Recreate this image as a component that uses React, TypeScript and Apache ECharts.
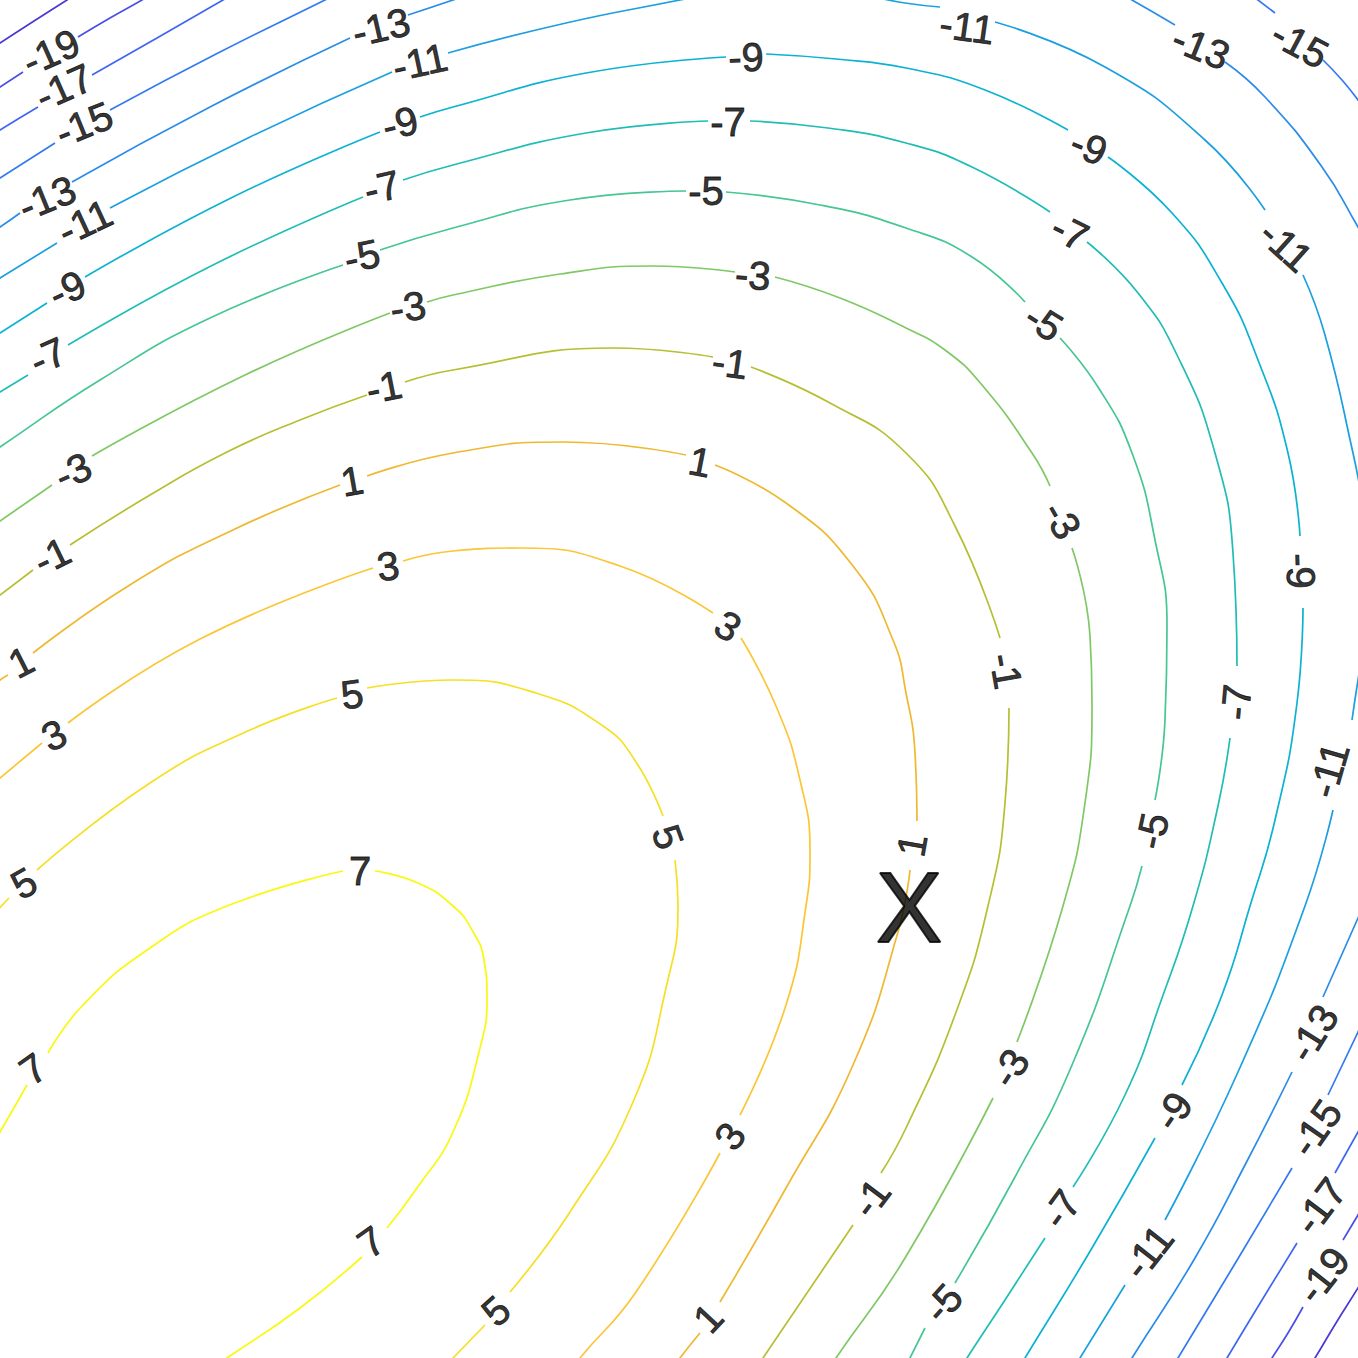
import { useEffect, useRef } from 'react';
import * as echarts from 'echarts';

type Pt = [number, number];

// contour levels, lowest first (the plane is in picture units, y downwards)
const levels = [-21, -19, -17, -15, -13, -11, -9, -7, -5, -3, -1, 1, 3, 5, 7];

// every contour is a list of runs; a run stops where a label breaks the line
const contourM21: Pt[][] = [
  [[-12, 51], [0, 43], [34, 21], [67, 0], [80, -8]],
  [[1372, 1265], [1358, 1288], [1336, 1323], [1315, 1358], [1306, 1372]],
];
const contourM19: Pt[][] = [
  [[-12, 95], [0, 87], [23, 72]],
  [[78, 37], [110, 18], [142, 0], [155, -8]],
  [[1372, 1192], [1358, 1215], [1343, 1240]],
  [[1303, 1307], [1288, 1333], [1272, 1358], [1265, 1370]],
];
const contourM17: Pt[][] = [
  [[-12, 138], [0, 130], [38, 107]],
  [[92, 75], [157, 38], [223, 0], [237, -8]],
  [[1372, 1107], [1358, 1132], [1335, 1173]],
  [[1297, 1243], [1262, 1300], [1227, 1358], [1220, 1370]],
];
const contourM15: Pt[][] = [
  [[-12, 186], [0, 178], [55, 143]],
  [[110, 110], [218, 53], [325, 0], [345, -10]],
  [[1245, -10], [1258, 0], [1275, 13]],
  [[1323, 60], [1342, 80], [1358, 100], [1368, 114]],
  [[1370, 1008], [1358, 1032], [1328, 1095]],
  [[1292, 1168], [1236, 1262], [1178, 1358], [1171, 1370]],
];
const contourM13: Pt[][] = [
  [[-12, 234], [0, 227], [20, 213]],
  [[72, 182], [210, 107], [350, 38]],
  [[408, 15], [453, 0], [475, -8]],
  [[1108, -13], [1132, 0], [1175, 25]],
  [[1225, 62], [1265, 97], [1322, 167], [1358, 227], [1366, 242]],
  [[1367, 897], [1358, 918], [1323, 997]],
  [[1292, 1072], [1245, 1165], [1195, 1258], [1132, 1358], [1125, 1370]],
];
const contourM11: Pt[][] = [
  [[-12, 285], [0, 278], [57, 243]],
  [[110, 208], [250, 137], [392, 72]],
  [[448, 53], [566, 23], [680, 0], [705, -5]],
  [[875, -3], [905, 3], [940, 7]],
  [[995, 22], [1105, 67], [1205, 140], [1265, 210]],
  [[1303, 275], [1325, 335], [1353, 453], [1362, 500]],
  [[1364, 645], [1358, 680], [1352, 720]],
  [[1333, 810], [1305, 906], [1238, 1072], [1165, 1220]],
  [[1125, 1285], [1080, 1358], [1073, 1370]],
];
const contourM9: Pt[][] = [
  [[-12, 341], [0, 333], [47, 303]],
  [[85, 277], [233, 197], [380, 132]],
  [[420, 117], [453, 107], [586, 73], [726, 57]],
  [[766, 54], [836, 59], [906, 68], [985, 90], [1068, 130]],
  [[1108, 157], [1172, 213], [1222, 283], [1258, 360], [1288, 453], [1300, 536]],
  [[1303, 608], [1297, 703], [1275, 820], [1250, 906], [1222, 995], [1182, 1085]],
  [[1155, 1138], [1092, 1248], [1025, 1358], [1018, 1370]],
];
const contourM7: Pt[][] = [
  [[-12, 399], [0, 392], [28, 375]],
  [[68, 345], [213, 265], [363, 197]],
  [[403, 180], [453, 165], [586, 133], [708, 121]],
  [[750, 121], [828, 128], [906, 143], [972, 167], [1050, 212]],
  [[1087, 242], [1138, 293], [1178, 357], [1215, 453], [1233, 553], [1237, 666]],
  [[1230, 738], [1218, 806], [1193, 906], [1162, 998], [1125, 1095], [1073, 1187]],
  [[1045, 1238], [1005, 1300], [967, 1358], [960, 1370]],
];
const contourM5: Pt[][] = [
  [[-12, 455], [0, 447], [100, 380], [210, 318], [343, 265]],
  [[380, 250], [453, 228], [570, 200], [686, 191]],
  [[726, 192], [820, 205], [906, 228], [972, 257], [1025, 302]],
  [[1060, 338], [1098, 387], [1132, 453], [1155, 540], [1167, 626], [1165, 720], [1155, 800]],
  [[1142, 866], [1130, 906], [1072, 1065], [1015, 1177], [955, 1283]],
  [[925, 1328], [910, 1358], [904, 1370]],
];
const contourM3: Pt[][] = [
  [[-12, 529], [0, 521], [52, 485]],
  [[92, 456], [245, 375], [390, 313]],
  [[427, 302], [453, 295], [560, 274], [653, 266], [735, 272]],
  [[775, 277], [840, 298], [906, 328], [945, 350], [982, 385], [1032, 453], [1050, 486]],
  [[1072, 548], [1090, 636], [1092, 703], [1085, 803], [1063, 906], [1017, 1042]],
  [[993, 1098], [905, 1258], [836, 1358], [829, 1370]],
];
const contourM1: Pt[][] = [
  [[-12, 604], [0, 595], [33, 570]],
  [[70, 545], [150, 495], [227, 452], [300, 420], [367, 395]],
  [[405, 382], [453, 370], [613, 348], [713, 357]],
  [[751, 367], [830, 403], [906, 453], [955, 526], [1000, 638]],
  [[1009, 708], [1005, 803], [988, 906], [955, 1015], [906, 1128], [881, 1173]],
  [[853, 1225], [763, 1358], [755, 1370]],
];
const contourP1: Pt[][] = [
  [[-12, 690], [0, 680], [8, 675]],
  [[33, 653], [133, 583], [235, 529], [340, 485]],
  [[367, 476], [453, 453], [563, 442], [686, 455]],
  [[715, 465], [786, 503], [853, 566], [893, 640], [906, 693], [915, 753], [917, 821]],
  [[910, 870], [898, 932], [853, 1065], [786, 1188], [720, 1302]],
  [[700, 1333], [680, 1358], [672, 1370]],
];
const contourP3: Pt[][] = [
  [[-12, 788], [0, 778], [42, 743]],
  [[68, 723], [200, 639], [373, 568]],
  [[403, 561], [453, 551], [520, 548], [620, 566], [713, 613]],
  [[741, 638], [776, 706], [800, 780], [810, 853], [806, 906], [786, 1005], [740, 1115]],
  [[720, 1153], [636, 1292], [580, 1358], [572, 1370]],
];
const contourP5: Pt[][] = [
  [[-12, 920], [9, 898]],
  [[37, 870], [150, 783], [250, 730], [337, 698]],
  [[367, 688], [453, 680], [536, 693], [603, 726], [636, 762], [663, 816]],
  [[675, 860], [678, 906], [666, 988], [633, 1102], [570, 1212], [510, 1292]],
  [[485, 1325], [453, 1358], [444, 1367]],
];
const contourP7: Pt[][] = [
  [[-12, 1152], [0, 1132], [27, 1085]],
  [[48, 1053], [83, 1005], [150, 948], [227, 906], [343, 871]],
  [[375, 871], [418, 883], [453, 906], [472, 930], [484, 960], [487, 998], [480, 1048], [453, 1132], [417, 1188], [387, 1228]],
  [[362, 1257], [300, 1308], [227, 1358], [212, 1368]],
];

const contours: [number, Pt[][]][] = [
  [-21, contourM21], [-19, contourM19], [-17, contourM17], [-15, contourM15],
  [-13, contourM13], [-11, contourM11], [-9, contourM9], [-7, contourM7],
  [-5, contourM5], [-3, contourM3], [-1, contourM1], [1, contourP1],
  [3, contourP3], [5, contourP5], [7, contourP7],
];

// inline labels: [level, x, y]
const labelSpots: [number, number, number][] = [
  // left edge
  [-19, 51, 52], [-17, 64, 87], [-15, 84, 124], [-13, 47, 198], [-11, 85, 222],
  [-9, 67, 289], [-7, 48, 356], [-3, 73, 471], [-1, 52, 556], [1, 21, 662],
  [3, 54, 735], [5, 24, 883], [7, 33, 1069],
  // upper band
  [-13, 381, 27], [-11, 420, 62], [-9, 400, 123], [-7, 382, 187], [-5, 362, 256],
  [-3, 408, 307], [-1, 384, 387], [1, 352, 481], [3, 388, 566], [5, 352, 694], [7, 360, 871],
  // top centre
  [-9, 746, 57], [-7, 728, 122], [-5, 706, 191], [-3, 753, 275], [-1, 730, 363],
  [1, 700, 462], [3, 728, 626], [5, 668, 837],
  // right side
  [-11, 967, 27], [-13, 1201, 47], [-15, 1300, 44], [-9, 1089, 147], [-11, 1286, 246],
  [-7, 1070, 232], [-5, 1044, 322], [-3, 1062, 520], [-9, 1301, 571], [-1, 1006, 671],
  [-7, 1236, 702], [-11, 1329, 770], [-5, 1152, 831], [1, 912, 845],
  // lower right
  [-13, 1313, 1033], [-3, 1010, 1068], [-9, 1173, 1111], [-15, 1316, 1128],
  [-17, 1320, 1206], [-7, 1061, 1209], [-1, 871, 1198], [-11, 1148, 1252],
  [-19, 1323, 1275], [-5, 943, 1303], [3, 730, 1136], [1, 708, 1318],
  [5, 496, 1311], [7, 371, 1242],
];

// tilt of each label above, in degrees, same order
const labelAngle = [
  24, 24, 22, 22, 25,
  25, 24, 24, 26, 27,
  25, 30, 35,
  13, 12, 14, 13, 12,
  9, 11, 10, 7, 8, 0,
  2, 0, 0, -4, -8,
  -11, -32, -70,
  -8, -22, -28, -22, -42,
  -26, -32, -60, -88, -80,
  85, 74, 78, 80,
  58, 57, 55, 55,
  53, 54, 53, 52,
  52, 48, 55, 47,
  42, 35,
];

// marked point
const markSpots: [string, number, number][] = [['X', 909, 907]];

const lineColors = [
  '#4838d6', '#4a4fe6', '#3f66f2', '#3479f2', '#2a8ce9', '#1b9fe0', '#0bb2d2',
  '#1fbdb5', '#45c693', '#7fc864', '#b6bf31', '#efb831', '#fbc636', '#f5e024', '#f9f90f',
];

const FONT = '"Liberation Sans", Arial, Helvetica, sans-serif';

export default function App() {
  const chartRef = useRef<HTMLDivElement>(null);

  useEffect(() => {
    if (!chartRef.current) return;
    document.body.style.margin = '0';
    const myChart = echarts.init(chartRef.current, null, { renderer: 'svg' });

    const series: any[] = [];
    contours.forEach(([level, runs]) => {
      const color = lineColors[levels.indexOf(level)];
      runs.forEach((run) => {
        series.push({
          type: 'line',
          data: run,
          smooth: 0.5,
          symbol: 'none',
          showSymbol: false,
          silent: true,
          clip: true,
          z: 2,
          lineStyle: { color, width: 1.7 },
        });
      });
    });

    series.push({
      type: 'scatter',
      symbolSize: 1,
      silent: true,
      z: 5,
      itemStyle: { color: 'rgba(0,0,0,0)' },
      label: {
        show: true,
        position: 'inside',
        formatter: '{b}',
        color: '#000',
        fontSize: 40,
        fontFamily: FONT,
        textBorderColor: '#000',
        textBorderWidth: 0.8,
        align: 'center',
        verticalAlign: 'middle',
      },
      data: labelSpots.map(([lv, x, y], i) => ({
        name: String(lv),
        value: [x, y],
        label: { rotate: labelAngle[i] },
      })),
    });

    series.push({
      type: 'scatter',
      symbolSize: 1,
      silent: true,
      z: 6,
      itemStyle: { color: 'rgba(0,0,0,0)' },
      label: {
        show: true,
        position: 'inside',
        formatter: '{b}',
        color: '#000',
        fontSize: 100,
        fontFamily: FONT,
        textBorderColor: '#000',
        textBorderWidth: 2,
        align: 'center',
        verticalAlign: 'middle',
      },
      data: markSpots.map(([t, x, y]) => ({ name: t, value: [x, y] })),
    });

    const option = {
      animation: false,
      backgroundColor: '#fff',
      grid: { left: 0, right: 0, top: 0, bottom: 0 },
      xAxis: { type: 'value', min: 0, max: 1358, show: false },
      yAxis: { type: 'value', min: 0, max: 1358, inverse: true, show: false },
      series,
    };

    myChart.setOption(option);

    const handleResize = () => myChart.resize();
    window.addEventListener('resize', handleResize);

    return () => {
      window.removeEventListener('resize', handleResize);
      myChart.dispose();
    };
  }, []);

  return <div ref={chartRef} style={{ width: 1358, height: 1358 }} />;
}
